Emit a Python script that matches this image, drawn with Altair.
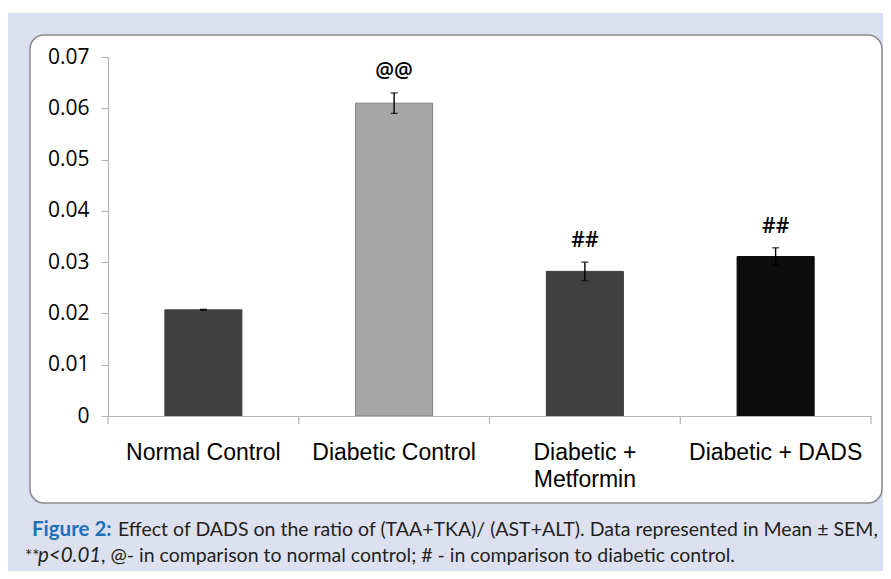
import altair as alt
import pandas as pd

categories = ["Normal Control", "Diabetic Control", "Diabetic + Metformin", "Diabetic + DADS"]
means = [0.0207, 0.0610, 0.0282, 0.0311]
sems = [0.0001, 0.0020, 0.0018, 0.0017]
marks = ["", "@@", "##", "##"]
y_ticks = [0, 0.01, 0.02, 0.03, 0.04, 0.05, 0.06, 0.07]

fill_colors = ["#404040", "#a6a6a6", "#404040", "#0d0d0d"]
stroke_colors = ["#404040", "#7f7f7f", "#404040", "#0d0d0d"]

caption_l1_bold = "Figure 2:"
caption_l1_rest = "Effect of DADS on the ratio of (TAA+TKA)/ (AST+ALT). Data represented in Mean \u00b1 SEM,"
caption_l2_a = "**"
caption_l2_b = "p<0.01"
caption_l2_c = ", @- in comparison to normal control; # - in comparison to diabetic control."

W, H = 763, 359
PAD_INNER = 0.596
STEP = W / len(categories)

df = pd.DataFrame({"cat": categories, "mean": means, "sem": sems, "mark": marks})
one = pd.DataFrame({"k": [0]})

base = alt.Chart(df).transform_calculate(
    lo="datum.mean - datum.sem", hi="datum.mean + datum.sem"
)

x_main = alt.X(
    "cat:N",
    sort=categories,
    scale=alt.Scale(domain=categories, paddingInner=PAD_INNER, paddingOuter=PAD_INNER / 2),
    axis=alt.Axis(
        title=None, labelAngle=0, ticks=False, labelPadding=25,
        labelFont="Liberation Sans", labelFontSize=23, labelColor="black",
        labelLineHeight=27, labelLimit=400, labelOverlap=False,
        domainColor="#b5b5b5", domainWidth=1.2, zindex=1,
        labelExpr="datum.label == 'Diabetic + Metformin' ? ['Diabetic +', 'Metformin'] : datum.label",
    ),
)
x_plain = alt.X("cat:N", sort=categories)

y_main = alt.Y(
    "mean:Q",
    scale=alt.Scale(domain=[0, 0.07], nice=False, zero=True),
    axis=alt.Axis(
        title=None, values=y_ticks, format=".2~f", tickSize=7, labelPadding=12,
        labelFont="Open Sans", labelFontSize=21, labelColor="black", grid=False,
        domainColor="#b5b5b5", tickColor="#b5b5b5", domainWidth=1.2, tickWidth=1.2,
        zindex=1,
    ),
)

backdrop = alt.Chart(one).mark_rect(fill="#dde1ef").encode(
    x=alt.value(-100), x2=alt.value(W + 20), y=alt.value(-44), y2=alt.value(H + 160)
)

panel = alt.Chart(one).mark_rect(
    fill="white", stroke="#8a8a8a", strokeWidth=1.5, cornerRadius=14
).encode(
    x=alt.value(-78), x2=alt.value(774), y=alt.value(-22), y2=alt.value(446)
)

bars = base.mark_bar(strokeWidth=1).encode(
    x=x_main,
    y=y_main,
    color=alt.Color("cat:N", scale=alt.Scale(domain=categories, range=fill_colors), legend=None),
    stroke=alt.Stroke("cat:N", scale=alt.Scale(domain=categories, range=stroke_colors), legend=None),
)

# category boundary ticks (Excel style: between categories)
xticks = alt.Chart(df).mark_rule(
    color="#b5b5b5", strokeWidth=1.2, xOffset=-STEP * PAD_INNER / 2
).encode(
    x=alt.X("cat:N", sort=categories, bandPosition=0),
    y=alt.value(H), y2=alt.value(H + 8),
)
xtick_end = alt.Chart(one).mark_rule(color="#b5b5b5", strokeWidth=1.2).encode(
    x=alt.value(W), y=alt.value(H), y2=alt.value(H + 8)
)

err = base.mark_rule(color="black", strokeWidth=1.4).encode(
    x=x_plain, y=alt.Y("lo:Q", title=None), y2="hi:Q"
)
cap_hi = base.mark_tick(color="black", thickness=1.4, size=7).encode(
    x=x_plain, y=alt.Y("hi:Q", title=None)
)
cap_lo = base.mark_tick(color="black", thickness=1.4, size=7).encode(
    x=x_plain, y=alt.Y("lo:Q", title=None)
)

sig = base.mark_text(
    font="Open Sans", fontSize=21, fontWeight=600, color="black", dy=-21, baseline="middle"
).encode(
    x=x_plain, y=alt.Y("hi:Q", title=None), text="mark:N"
)

def cap_text(txt, xpos, ypos, size=19.5, **kw):
    return alt.Chart(one).mark_text(
        align="left", baseline="alphabetic", font="Lato", fontSize=size, **kw
    ).encode(x=alt.value(xpos), y=alt.value(ypos), text=alt.value(txt))

c1 = cap_text(caption_l1_bold, -76, 479, size=20.5, color="#1f6fb8", fontWeight="bold")
c2 = cap_text(caption_l1_rest, 10, 479, color="#231f20")
c3 = cap_text(caption_l2_a, -83, 505, size=17, color="#231f20")
c4 = cap_text(caption_l2_b, -70, 505, size=20.5, color="#231f20", fontStyle="italic")
c5 = cap_text(caption_l2_c, -7, 505, color="#231f20")

chart = alt.layer(
    backdrop, panel, bars, xticks, xtick_end, err, cap_hi, cap_lo, sig, c1, c2, c3, c4, c5
).properties(
    width=W, height=H,
    background="white",
    padding={"left": 100, "top": 49, "right": 12, "bottom": 155},
    autosize=alt.AutoSizeParams(type="none"),
).configure_view(stroke=None)

chart.save("out.html", embed_options={"renderer": "svg", "actions": False})
